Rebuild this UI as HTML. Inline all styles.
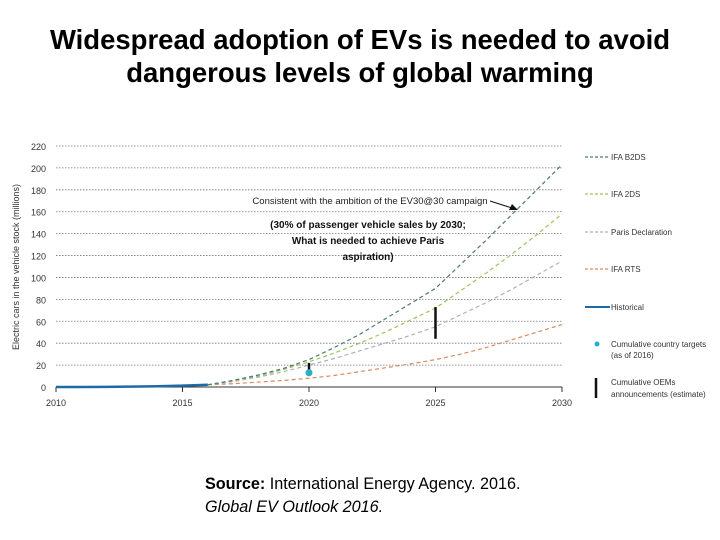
<!DOCTYPE html>
<html><head><meta charset="utf-8"><style>
body{margin:0;width:720px;height:540px;background:#fff;font-family:"Liberation Sans",sans-serif;overflow:hidden;position:relative}
.t{position:absolute;left:0;width:720px;text-align:center;font-weight:bold;font-size:27.5px;line-height:33px;top:23px;color:#000}
.src{position:absolute;left:205px;top:473px;font-size:16.2px;line-height:23px}
</style></head><body>
<div class="t">Widespread adoption of EVs is needed to avoid<br>dangerous levels of global warming</div>
<svg id="c" width="720" height="540" style="position:absolute;left:0;top:0"></svg>
<div class="src"><b>Source:</b> International Energy Agency. 2016.<br><i>Global EV Outlook 2016.</i></div>
<script>
const years=[2016,2017,2018,2019,2020,2021,2022,2023,2024,2025,2026,2027,2028,2029,2030];
const b2ds=[2,6,11,17,25,36,48,62,76,90,112,134,157,180,203];
const ids2=[2,6,10,16,23,31,40,50,61,72,88,104,121,139,158];
const paris=[2,5,9,14,20,26,33,40,47,55,66,77,89,102,115];
const rts=[2,3,4.5,6,8,10.5,14,17.5,21,25,30,36,43,50,57];
const histYears=[2010,2011,2012,2013,2014,2015,2016];
const hist=[0,0.05,0.15,0.35,0.7,1.2,2];
const targetYear=2020, targetVal=13;
const oemYears=[2020,2025], oemLo=[10,44], oemHi=[22,73];
const yTicks=[0,20,40,60,80,100,120,140,160,180,200,220];
const xTicks=[2010,2015,2020,2025,2030];
const NS="http://www.w3.org/2000/svg",svg=document.getElementById('c');
const X=v=>56+(v-2010)/20*506, Y=v=>387-v/220*241;
function el(t,a,p){const e=document.createElementNS(NS,t);for(const k in a)e.setAttribute(k,a[k]);(p||svg).appendChild(e);return e;}
yTicks.forEach(v=>{
 if(v>0){const g=el('line',{x1:56,x2:562,y1:Y(v),y2:Y(v),stroke:'#777','stroke-width':0.8,'stroke-dasharray':'1.5,1.5'});
 }
 const t=el('text',{x:46,y:Y(v)+4,'text-anchor':'end','font-size':9,fill:'#333'});t.textContent=v;
 
});
const ax=el('line',{x1:56,x2:562,y1:387,y2:387,stroke:'#333','stroke-width':1});

xTicks.forEach(v=>{
 el('line',{x1:X(v),x2:X(v),y1:387,y2:392,stroke:'#333'});
 const t=el('text',{x:X(v),y:406,'text-anchor':'middle','font-size':9,fill:'#333'});t.textContent=v;
 
});
const yt=el('text',{x:0,y:0,'text-anchor':'middle','font-size':9,fill:'#333',transform:'translate(19,267) rotate(-90)'});
yt.textContent='Electric cars in the vehicle stock (millions)';

function line(xs,ys,col,name,dash,w){
 const p=el('polyline',{points:xs.map((x,i)=>X(x)+','+Y(ys[i])).join(' '),fill:'none',stroke:col,'stroke-width':w||1.2,'stroke-dasharray':dash||'4,3'});
 
}
line(years,rts,'#d98a5e','series-iea-rts');
line(years,paris,'#aab0c4','series-paris-declaration');
line(years,ids2,'#9cc45a','series-iea-2ds');
line(years,b2ds,'#4f7a6a','series-iea-b2ds');
line(histYears,hist,'#1f6aa5','series-historical','none',2.5);
oemYears.forEach((y,i)=>{const l=el('line',{x1:X(y),x2:X(y),y1:Y(oemLo[i]),y2:Y(oemHi[i]),stroke:'#111','stroke-width':2.5});
 });
const d=el('circle',{cx:X(targetYear),cy:Y(targetVal),r:3.5,fill:'#2ab0c5'});

const a1=el('text',{x:370,y:204,'text-anchor':'middle','font-size':9.5,fill:'#222'});a1.textContent='Consistent with the ambition of the EV30@30 campaign';

el('line',{x1:490,y1:201,x2:512,y2:208,stroke:'#111','stroke-width':1});
el('polygon',{points:'518,210 509,210 512,204',fill:'#111'});
['(30% of passenger vehicle sales by 2030;','What is needed to achieve Paris','aspiration)'].forEach((s,i)=>{
 const t=el('text',{x:368,y:228+i*16,'text-anchor':'middle','font-size':10,'font-weight':'bold',fill:'#111'});t.textContent=s;
 });
const leg=[['IFA B2DS','#4f7a6a',157],['IFA 2DS','#9cc45a',194],['Paris Declaration','#aab0c4',232],['IFA RTS','#d98a5e',269]];
leg.forEach(([n,c,y])=>{
 const g=el('g',{});
 el('line',{x1:585,x2:610,y1:y,y2:y,stroke:c,'stroke-width':1.2,'stroke-dasharray':'3,2'},g);
 const t=el('text',{x:611,y:y+3,'font-size':8,fill:'#333'},g);t.textContent=n;});
const gh=el('g',{});
el('line',{x1:585,x2:610,y1:307,y2:307,stroke:'#1f6aa5','stroke-width':2},gh);
el('text',{x:611,y:310,'font-size':8,fill:'#333'},gh).textContent='Historical';
const gt=el('g',{});
el('circle',{cx:597,cy:344,r:2.5,fill:'#2ab0c5'},gt);
el('text',{x:611,y:347,'font-size':8,fill:'#333'},gt).textContent='Cumulative country targets';
el('text',{x:611,y:358,'font-size':8,fill:'#333'},gt).textContent='(as of 2016)';
const go=el('g',{});
el('line',{x1:596,x2:596,y1:378,y2:398,stroke:'#111','stroke-width':2.5},go);
el('text',{x:611,y:385,'font-size':8,fill:'#333'},go).textContent='Cumulative OEMs';
el('text',{x:611,y:397,'font-size':8,fill:'#333'},go).textContent='announcements (estimate)';
</script>
</body></html>
